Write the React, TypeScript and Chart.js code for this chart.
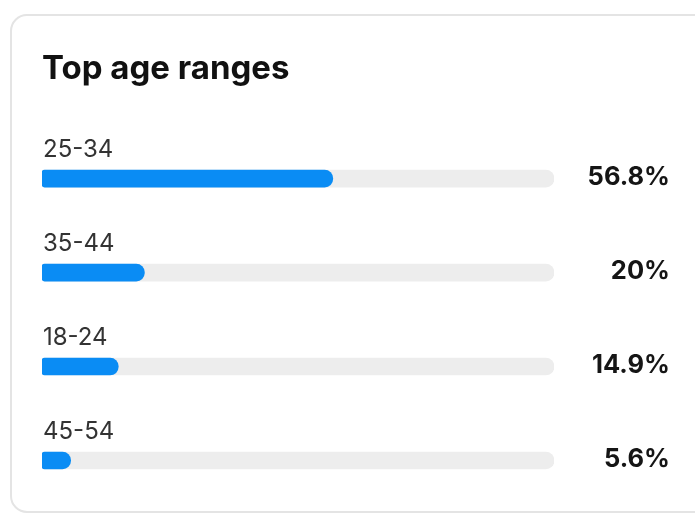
import React, { useEffect, useRef } from "react";
import { Chart, registerables } from "chart.js";

Chart.register(...registerables);

const titleText = "Top age ranges";
const categories = ["25-34", "35-44", "18-24", "45-54"];
const values = [56.8, 20, 14.9, 5.6];
const valueLabels = ["56.8%", "20%", "14.9%", "5.6%"];
const trackValues = [100, 100, 100, 100];

const FONT = "Inter, 'Liberation Sans', sans-serif";

const cardPlugin = {
  id: "card",
  beforeDraw(chart: any) {
    const ctx = chart.ctx;
    ctx.save();
    ctx.fillStyle = "#ffffff";
    ctx.fillRect(0, 0, chart.width, chart.height);
    ctx.strokeStyle = "#e4e4e4";
    ctx.lineWidth = 2;
    ctx.beginPath();
    (ctx as any).roundRect(11, 15, 800, 497, 16);
    ctx.stroke();
    ctx.restore();
  },
};

const labelPlugin = {
  id: "rowLabels",
  afterDatasetsDraw(chart: any) {
    const ctx = chart.ctx;
    const yScale = chart.scales.y;
    const xScale = chart.scales.x;
    ctx.save();
    categories.forEach((cat, i) => {
      const y = yScale.getPixelForValue(i);
      ctx.textAlign = "left";
      ctx.textBaseline = "alphabetic";
      ctx.fillStyle = "#333333";
      ctx.font = `400 24px ${FONT}`;
      ctx.fillText(cat, xScale.left + 1, y - 22);
      ctx.textAlign = "right";
      ctx.fillStyle = "#151515";
      ctx.font = `700 25.5px ${FONT}`;
      ctx.fillText(valueLabels[i], 670, y + 6.5);
    });
    ctx.restore();
  },
};

export default function App() {
  const ref = useRef<HTMLCanvasElement>(null);
  useEffect(() => {
    if (!ref.current) return;
    const chart = new Chart(ref.current, {
      type: "bar",
      data: {
        labels: categories,
        datasets: [
          {
            data: values,
            backgroundColor: "#0a8cf4",
            grouped: false,
            barThickness: 17,
            borderSkipped: false,
            borderRadius: { topLeft: 3, bottomLeft: 3, topRight: 9, bottomRight: 9 },
            order: 1,
          } as any,
          {
            data: trackValues,
            backgroundColor: "#ededed",
            grouped: false,
            barThickness: 17,
            borderSkipped: false,
            borderRadius: { topLeft: 3, bottomLeft: 3, topRight: 9, bottomRight: 9 },
            order: 2,
          } as any,
        ],
      },
      options: {
        indexAxis: "y",
        animation: false,
        responsive: true,
        maintainAspectRatio: false,
        layout: { padding: { left: 42, right: 141, top: 20, bottom: 6.5 } },
        scales: {
          x: { display: false, min: 0, max: 100 },
          y: { display: false, offset: true },
        },
        plugins: {
          legend: { display: false },
          tooltip: { enabled: false },
          title: {
            display: true,
            text: titleText,
            align: "start",
            color: "#111111",
            font: { family: FONT, size: 33, weight: "bold" },
            padding: { top: 29, bottom: 43 },
          },
        },
      },
      plugins: [cardPlugin, labelPlugin],
    });
    return () => chart.destroy();
  }, []);
  return (
    <div style={{ position: "fixed", left: 0, top: 0, width: 695, height: 514 }}>
      <canvas ref={ref} />
    </div>
  );
}
